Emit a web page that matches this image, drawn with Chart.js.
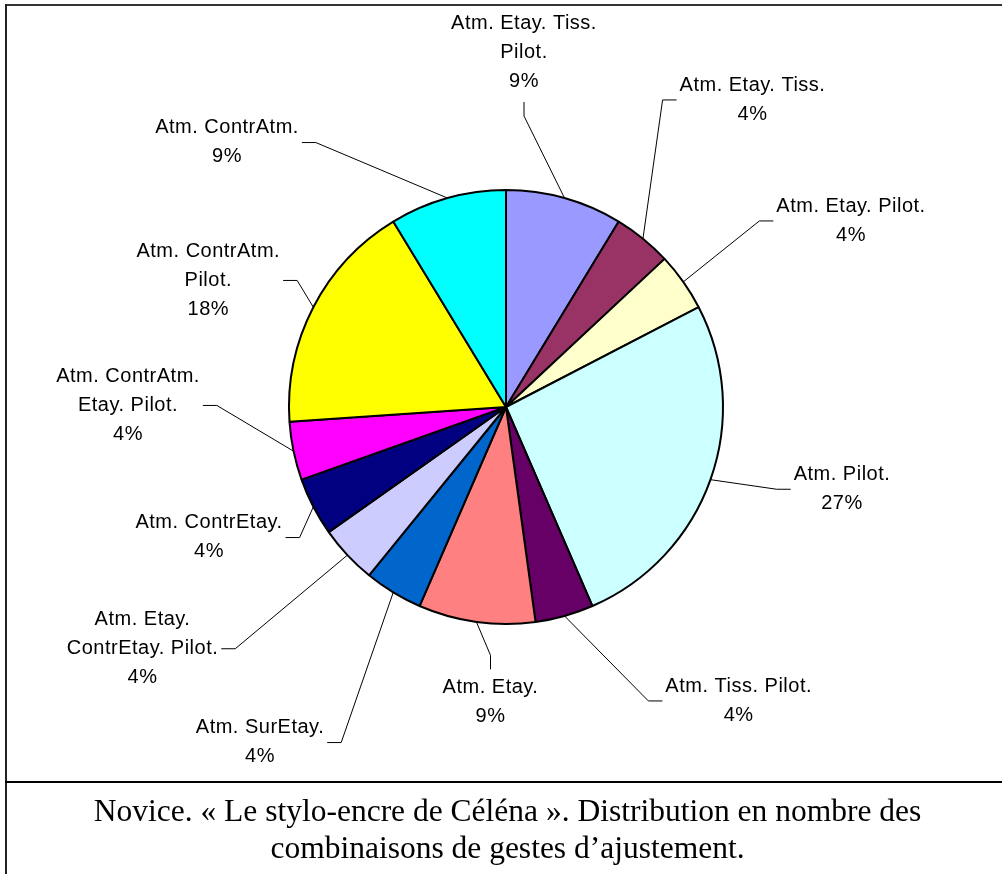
<!DOCTYPE html>
<html>
<head>
<meta charset="utf-8">
<script src="https://cdn.jsdelivr.net/npm/chart.js@4.4.1/dist/chart.umd.min.js"></script>
<style>
  html, body { margin: 0; padding: 0; background: #fff; }
  body { width: 1002px; height: 874px; position: relative; overflow: hidden; }
  #chartBox { position: absolute; left: 0; top: 0; width: 1002px; height: 780px; }
  .frame { position: absolute; background: #222; }
  #caption {
    position: absolute; left: 10px; top: 792px; width: 995px; text-align: center;
    font-family: "Liberation Serif", "Times New Roman", serif; font-size: 31.5px;
    line-height: 37px; color: #000; white-space: nowrap;
  }
</style>
</head>
<body>
<div id="chartBox"><canvas id="pie" width="1002" height="780"></canvas></div>
<div class="frame" style="left:5px;top:4px;width:997px;height:2px;background:#333"></div>
<div class="frame" style="left:5px;top:4px;width:2px;height:870px"></div>
<div class="frame" style="left:5px;top:781px;width:997px;height:2px;background:#000"></div>
<div id="caption">Novice. « Le stylo-encre de Céléna ». Distribution en nombre des<br>combinaisons de gestes d’ajustement.</div>

<script>
    /********************
     * Data (clockwise from 12 o'clock)
     ********************/
    const categories = [
      ["Atm. Etay. Tiss.", "Pilot."],
      ["Atm. Etay. Tiss."],
      ["Atm. Etay. Pilot."],
      ["Atm. Pilot."],
      ["Atm. Tiss. Pilot."],
      ["Atm. Etay."],
      ["Atm. SurEtay."],
      ["Atm. Etay.", "ContrEtay. Pilot."],
      ["Atm. ContrEtay."],
      ["Atm. ContrAtm.", "Etay. Pilot."],
      ["Atm. ContrAtm.", "Pilot."],
      ["Atm. ContrAtm."]
    ];
    // counts (46 combinations in all)
    const counts = [4, 2, 2, 12, 2, 4, 2, 2, 2, 2, 8, 4];
    // percentages as printed on the labels
    const pctLabels = ["9%", "4%", "4%", "27%", "4%", "9%", "4%", "4%", "4%", "4%", "18%", "9%"];

    const colors = [
      "#9999FF", "#993366", "#FFFFCC", "#CCFFFF", "#660066", "#FF8080",
      "#0066CC", "#CCCCFF", "#000080", "#FF00FF", "#FFFF00", "#00FFFF"
    ];

    // where each label was dragged to, relative to the pie centre
    // dx = label centre x, y0 = first baseline, attach = side the leader joins
    const labelPlace = [
      { dx: 18,     y0: -378,   attach: "bottom" },
      { dx: 246.5,  y0: -316.3, attach: "left" },
      { dx: 345,    y0: -195.3, attach: "left" },
      { dx: 336,    y0: 73,     attach: "left" },
      { dx: 232.7,  y0: 284.7,  attach: "left" },
      { dx: -15.5,  y0: 286.3,  attach: "top" },
      { dx: -246,   y0: 326.3,  attach: "right" },
      { dx: -363.5, y0: 218,    attach: "right" },
      { dx: -297,   y0: 121.3,  attach: "right" },
      { dx: -378,   y0: -25.3,  attach: "right" },
      { dx: -297.7, y0: -150.3, attach: "right" },
      { dx: -279,   y0: -273.7, attach: "right" }
    ];
    const LINE_H = 29;

    /********************
     * Outside labels with leader lines (Excel style)
     ********************/
    const leaderLabels = {
      id: "leaderLabels",
      afterDatasetsDraw(chart){
        const ctx = chart.ctx;
        const arcs = chart.getDatasetMeta(0).data;
        ctx.save();
        ctx.font = '20px "Liberation Sans", Arial, sans-serif';
        ctx.letterSpacing = "0.5px";
        ctx.fillStyle = "#000";
        ctx.strokeStyle = "#000";
        ctx.lineWidth = 1;
        ctx.textAlign = "center";
        ctx.textBaseline = "alphabetic";

        arcs.forEach((arc, i) => {
          const p = labelPlace[i];
          const lines = [...categories[i], pctLabels[i]];
          const cx = arc.x + p.dx;
          const y0 = arc.y + p.y0;
          const yLast = y0 + (lines.length - 1) * LINE_H;
          lines.forEach((t, k) => ctx.fillText(t, cx, y0 + k * LINE_H));

          const w = Math.max(...lines.map(t => ctx.measureText(t).width));
          const mid = (arc.startAngle + arc.endAngle) / 2;
          const ax = arc.x + Math.cos(mid) * arc.outerRadius;
          const ay = arc.y + Math.sin(mid) * arc.outerRadius;
          const midY = (y0 + yLast - 10.5) / 2;

          let ex, ey, bx, by;
          if(p.attach === "left"){ ex = cx - w / 2 - 3; ey = midY; bx = ex - 14; by = ey; }
          else if(p.attach === "right"){ ex = cx + w / 2 + 3; ey = midY; bx = ex + 14; by = ey; }
          else if(p.attach === "bottom"){ ex = cx; ey = yLast + 15; bx = ex; by = ey + 14; }
          else { ex = cx; ey = y0 - 24; bx = ex; by = ey - 14; }

          ctx.beginPath();
          ctx.moveTo(ax, ay);
          ctx.lineTo(bx, by);
          ctx.lineTo(ex, ey);
          ctx.stroke();
        });
        ctx.restore();
      }
    };

    new Chart(document.getElementById("pie").getContext("2d"), {
      type: "pie",
      data: {
        labels: categories,
        datasets: [{
          data: counts,
          backgroundColor: colors,
          borderColor: "#000",
          borderWidth: 2
        }]
      },
      options: {
        responsive: false,
        animation: false,
        radius: 217,
        layout: { padding: { left: 10, right: 0, top: 34, bottom: 0 } },
        plugins: {
          legend: { display: false },
          tooltip: { enabled: false }
        }
      },
      plugins: [leaderLabels]
    });
</script>
</body>
</html>
